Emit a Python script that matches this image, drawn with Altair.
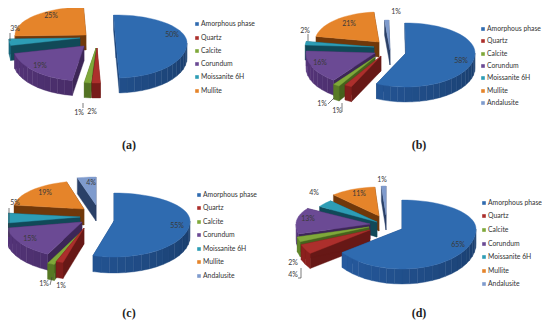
import math
import altair as alt

CATEGORIES = ["Amorphous phase", "Quartz", "Calcite", "Corundum", "Moissanite 6H", "Mullite", "Andalusite"]
SHARES_A = [50, 1.9, 1.5, 19, 3, 25, 0]
SHARES_B = [58, 1.7, 1.5, 16, 2, 21, 1]
SHARES_C = [55, 1.5, 1.5, 15, 5, 19, 4]
SHARES_D = [65, 4, 2, 13, 4, 11, 1]
LABELS_A = ["50%", "2%", "1%", "19%", "3%", "25%", ""]
LABELS_B = ["58%", "1%", "1%", "16%", "2%", "21%", "1%"]
LABELS_C = ["55%", "1%", "1%", "15%", "5%", "19%", "4%"]
LABELS_D = ["65%", "4%", "2%", "13%", "4%", "11%", "1%"]

TOP = ["#2f6bb0", "#ac2f2c", "#7fa83a", "#6b4a94", "#2d9db5", "#e5842a", "#7f9bcd"]
SIDE = ["#1f4a82", "#701a18", "#4c6a20", "#42295f", "#124f60", "#7a3d0b", "#2e4670"]
MARGIN = 8

PANELS = [
    dict(shares=SHARES_A, labels=LABELS_A, start=-2, rb=28, rf=35, depth=15, rx=71,
         centres=[(116, 43), (97, 48), (96, 48), (84, 46), (80, 38), (86, 35), (0, 0)],
         label_xy=[(172, 35), (92, 112), (79, 113), (40, 66), (15, 29), (51, 16), (0, 0)],
         key_x=197, key_y=[24, 38, 51, 64, 77, 91], caption="(a)", cap_xy=(129, 145),
         leaders=[(10, 33, 10, 41), (83, 103, 83, 108)], rx_f={5: 1.0}),
    dict(shares=SHARES_B, labels=LABELS_B, start=-1, rb=30, rf=34, depth=15, rx=69,
         centres=[(406, 53), (381, 56), (375, 57), (375, 53), (374, 47), (379, 42), (390, 50)],
         label_xy=[(461, 61), (337, 111), (322, 104), (320, 63), (305, 31), (349, 24), (396, 12)],
         key_x=483, key_y=[29, 41, 54, 66, 78, 91, 103], caption="(b)", cap_xy=(419, 145),
         leaders=[(328, 104, 334, 98), (342, 103, 342, 112), (308, 34, 308, 41)], rx_f={5: 0.93}),
    dict(shares=SHARES_C, labels=LABELS_C, start=0, rb=28, rf=36, depth=16, rx=76,
         centres=[(114, 221), (84, 228), (82, 231), (82, 222), (80, 217), (84, 209), (96, 205)],
         label_xy=[(177, 226), (61, 286), (44, 284), (30, 239), (15, 203), (45, 193), (91, 183)],
         key_x=199, key_y=[195, 208, 222, 235, 249, 262, 276], caption="(c)", cap_xy=(129, 313),
         leaders=[(9, 208, 9, 237), (50, 285, 52, 277)], rx_f={5: 0.93, 4: 0.98}),
    dict(shares=SHARES_D, labels=LABELS_D, start=0, rb=29, rf=40, depth=15, rx=74,
         centres=[(402, 229), (370, 230), (369, 227), (370, 224), (377, 222), (379, 216), (386, 215)],
         label_xy=[(458, 245), (293, 275), (293, 263), (308, 219), (314, 193), (359, 194), (382, 180)],
         key_x=484, key_y=[203, 216, 230, 244, 257, 271, 284], caption="(d)", cap_xy=(419, 313),
         leaders=[(298, 278, 301, 278), (301, 278, 301, 268)], rx_f={5: 0.9, 4: 0.92}),
]
PAINT_ORDER = [5, 6, 4, 3, 2, 1, 0]


def shade(hex_col, f):
    r, g, b = [int(hex_col[i:i + 2], 16) for i in (1, 3, 5)]
    return "#%02x%02x%02x" % tuple(max(0, min(255, round(c * f))) for c in (r, g, b))


def rim(cx, cy, rx, p, deg, drop=0):
    t = math.radians(deg)
    c, s = math.cos(t), math.sin(t)
    return [cx + rx * s - MARGIN, cy - (p["rb"] if c > 0 else p["rf"]) * c + drop - MARGIN]


def poly(ring, colour):
    return {"type": "Feature", "properties": {"c": colour},
            "geometry": {"type": "Polygon", "coordinates": [ring + [ring[0]]]}}


features, text_rows, key_rows, leader_rows, caption_rows = [], [], [], [], []
for p in PANELS:
    total = sum(p["shares"])
    acc = p["start"]
    spans = []
    for v in p["shares"]:
        spans.append((acc, acc + v / total * 360))
        acc = spans[-1][1]
    for i in PAINT_ORDER:
        if p["shares"][i] == 0:
            continue
        a0, a1 = spans[i]
        cx, cy = p["centres"][i]
        rx, d = p["rx"] * p["rx_f"].get(i, 1), p["depth"]
        tip = [cx - MARGIN, cy - MARGIN]
        tipd = [tip[0], tip[1] + d]
        for edge in (a0, a1):
            o, od = rim(cx, cy, rx, p, edge), rim(cx, cy, rx, p, edge, d)
            features.append(poly([tip, o, od, tipd], shade(SIDE[i], 0.92)))
        lo, hi = max(a0, 90), min(a1, 270)
        n = max(1, int((hi - lo) / 6)) if hi > lo else 0
        for k in range(n):
            b0 = lo + (hi - lo) * k / n
            b1 = lo + (hi - lo) * (k + 1) / n
            f = 0.82 + 0.5 * ((b0 + b1) / 2 - 90) / 180
            features.append(poly([rim(cx, cy, rx, p, b0), rim(cx, cy, rx, p, b1),
                                  rim(cx, cy, rx, p, b1, d), rim(cx, cy, rx, p, b0, d)],
                                 shade(SIDE[i], f)))
        m = max(2, int((a1 - a0) / 4))
        ring = [tip] + [rim(cx, cy, rx, p, a0 + (a1 - a0) * k / m) for k in range(m + 1)]
        features.append(poly(ring, TOP[i]))
    for i, lab in enumerate(p["labels"]):
        if lab:
            x, y = p["label_xy"][i]
            text_rows.append({"x": x - MARGIN, "y": y - MARGIN, "t": lab})
    for i, y in enumerate(p["key_y"]):
        key_rows.append({"x": p["key_x"] - MARGIN, "y": y - MARGIN, "c": TOP[i],
                         "tx": p["key_x"] + 4 - MARGIN, "t": CATEGORIES[i]})
    for x, y, x2, y2 in p["leaders"]:
        leader_rows.append({"x": x - MARGIN, "y": y - MARGIN, "x2": x2 - MARGIN, "y2": y2 - MARGIN})
    caption_rows.append({"x": p["cap_xy"][0] - MARGIN, "y": p["cap_xy"][1] - MARGIN, "t": p["caption"]})

px = lambda f: alt.X(f, type="quantitative", scale=None, axis=None)
py = lambda f: alt.Y(f, type="quantitative", scale=None, axis=None)

pies = alt.Chart(alt.InlineData(values={"type": "FeatureCollection", "features": features},
                                format=alt.DataFormat(property="features", type="json"))
                 ).mark_geoshape(strokeWidth=0.4).encode(
    fill=alt.Fill("properties.c:N", scale=None, legend=None),
    stroke=alt.Stroke("properties.c:N", scale=None, legend=None),
).project(type="identity", scale=1, translate=[0, 0])

leaders = alt.Chart(alt.Data(values=leader_rows)).mark_rule(color="#444444", strokeWidth=0.7).encode(
    x=px("x"), y=py("y"), x2=alt.X2("x2:Q"), y2=alt.Y2("y2:Q"))
pct = alt.Chart(alt.Data(values=text_rows)).mark_text(font="Lato", fontSize=7, color="#3a3a3a").encode(
    x=px("x"), y=py("y"), text="t:N")
keys = alt.Chart(alt.Data(values=key_rows)).mark_square(size=13, opacity=1).encode(
    x=px("x"), y=py("y"), fill=alt.Fill("c:N", scale=None, legend=None))
key_text = alt.Chart(alt.Data(values=key_rows)).mark_text(
    font="Lato", fontSize=6.8, color="#333333", align="left").encode(
    x=px("tx"), y=py("y"), text="t:N")
caps = alt.Chart(alt.Data(values=caption_rows)).mark_text(
    font="Liberation Serif", fontSize=12, fontWeight="bold", color="#222222").encode(
    x=px("x"), y=py("y"), text="t:N")

chart = alt.layer(pies, leaders, pct, keys, key_text, caps).properties(
    width=534, height=312, autosize=alt.AutoSizeParams(type="none"), padding=0,
    background="white",
).configure_view(stroke=None)

chart.save("out.html", embed_options={"renderer": "svg", "actions": False})
